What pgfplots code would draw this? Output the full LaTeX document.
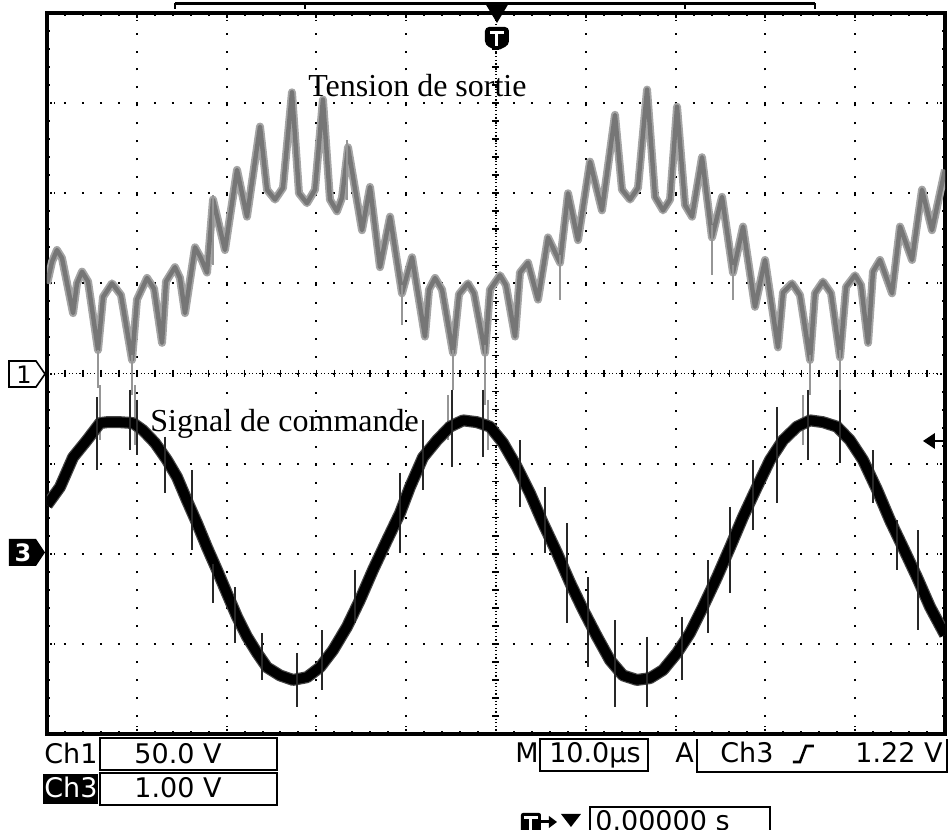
\documentclass[border=0pt]{standalone}
\usepackage{pgfplots}
\pgfplotsset{compat=1.18}
\usepackage{pgfplotstable}
\usepackage{fontspec}
\setmainfont{Liberation Serif}
\newfontfamily\scopefont{DejaVu Sans}

% Ch1 : tension de sortie (x en us, y en divisions)
\pgfplotstableread{
t v
0.00 1.00
0.11 1.04
0.56 1.24
1.11 1.37
1.67 1.28
2.90 0.67
3.34 1.00
3.90 1.13
4.57 1.02
5.68 0.26
6.24 0.85
7.24 1.00
8.24 0.87
9.47 0.15
10.02 0.82
11.14 1.06
11.92 0.94
12.81 0.34
13.25 1.02
14.25 1.18
14.81 1.06
15.37 0.67
16.48 1.40
17.15 1.28
17.82 1.12
18.49 1.93
19.82 1.37
21.16 2.26
22.27 1.74
23.72 2.74
24.50 2.04
25.39 1.93
26.28 2.06
27.28 3.12
28.06 2.00
28.95 1.89
29.84 2.04
30.73 3.04
31.51 1.93
32.29 1.80
32.85 1.95
33.52 2.51
35.08 1.59
35.97 2.07
37.08 1.18
38.20 1.74
39.53 0.89
40.65 1.29
42.09 0.41
42.54 0.93
43.21 1.06
43.99 0.93
45.21 0.23
45.88 0.88
46.88 1.00
47.55 0.89
48.78 0.23
49.33 0.93
50.45 1.09
51.11 0.98
52.12 0.41
52.67 1.12
53.56 1.23
54.68 0.82
55.79 1.51
57.13 1.23
58.02 2.00
59.13 1.48
60.47 2.35
61.80 1.81
63.25 2.87
64.03 2.04
64.92 1.93
65.81 2.06
66.82 3.15
67.71 1.96
68.60 1.81
69.38 1.93
70.16 2.96
71.05 1.87
71.83 1.74
72.94 2.40
74.05 1.51
75.17 1.96
76.39 1.12
77.51 1.63
78.84 0.74
79.96 1.26
81.40 0.29
81.96 0.90
82.96 1.00
83.85 0.87
84.97 0.15
85.52 0.89
86.41 1.02
87.31 0.89
88.31 0.18
88.98 0.96
89.98 1.09
90.65 0.98
91.43 0.34
91.98 1.13
92.76 1.26
94.10 0.89
94.99 1.63
96.33 1.26
97.44 2.04
98.55 1.59
100.00 2.26
}\sortie

% Ch3 : signal de commande
\pgfplotstableread{
t v
0.00 -1.46
1.45 -1.26
2.90 -0.93
4.45 -0.74
5.90 -0.55
6.68 -0.54
8.13 -0.54
9.58 -0.55
10.69 -0.63
12.03 -0.77
13.36 -0.96
14.48 -1.15
15.59 -1.41
16.70 -1.66
17.82 -1.93
18.93 -2.18
20.04 -2.44
21.16 -2.70
22.27 -2.92
23.39 -3.10
24.50 -3.26
25.95 -3.35
27.39 -3.40
28.95 -3.37
30.40 -3.26
31.85 -3.07
33.41 -2.81
34.86 -2.51
36.30 -2.18
37.86 -1.85
39.31 -1.55
40.42 -1.26
41.87 -0.93
43.43 -0.74
44.88 -0.59
46.33 -0.52
47.88 -0.54
49.33 -0.59
50.78 -0.77
52.34 -1.04
53.79 -1.33
55.23 -1.66
56.79 -1.99
58.24 -2.32
59.69 -2.62
61.25 -2.92
62.69 -3.18
64.14 -3.35
65.70 -3.40
67.15 -3.38
68.60 -3.29
70.16 -3.10
71.60 -2.88
73.05 -2.59
74.61 -2.26
76.06 -1.93
77.51 -1.59
79.06 -1.26
80.51 -0.96
81.96 -0.74
83.52 -0.59
84.97 -0.52
86.41 -0.54
87.97 -0.59
89.42 -0.74
90.87 -0.96
92.43 -1.29
93.88 -1.63
95.32 -1.93
96.88 -2.26
98.33 -2.59
100.00 -2.90
}\commande

\begin{document}
\begin{tikzpicture}
% lignes centrales de l'ecran
\begin{scope}[x=0.5bp,y=-0.5bp,shift={(-23.5bp,367bp)}]
  \draw[line width=0.8bp, dash pattern=on 0.6bp off 1.2bp] (47,373.5) -- (945,373.5);
  \draw[line width=0.8bp, dash pattern=on 0.6bp off 1.2bp] (496,13) -- (496,734);
  \foreach \k in {1,...,49} \draw[line width=0.8bp] ({47+17.96*\k},370) -- ++(0,7);
  \foreach \k in {1,...,39} \draw[line width=0.8bp] (492.5,{13+18.025*\k}) -- ++(7,0);
\end{scope}

\begin{axis}[
    width=449bp, height=360.5bp, scale only axis,
    xmin=0, xmax=100, ymin=-4, ymax=4,
    xtick={0,10,...,100}, ytick={-4,-3,...,4},
    minor x tick num=4, minor y tick num=4,
    xticklabels={}, yticklabels={},
    xtick pos=both, ytick pos=both,
    tick align=inside,
    major tick length=4.5bp, minor tick length=1.5bp,
    major tick style={black, line width=1bp, dash pattern=on 0.6bp off 1.1bp},
    minor tick style={black, line width=1bp},
    grid=major,
    major grid style={black, line width=1bp, dash pattern=on 1bp off 7.98bp, dash phase=0.5bp},
    axis line style={line width=2.3bp},
    no markers,
    unbounded coords=jump,
  ]
  % Ch1
  \addplot[color={rgb,255:red,165;green,165;blue,165}, line width=4bp, line join=round] table[x=t,y=v] {\sortie};
  \addplot[color={rgb,255:red,118;green,118;blue,118}, line width=2.2bp, line join=round] table[x=t,y=v] {\sortie};
  \addplot[color={rgb,255:red,150;green,150;blue,150}, line width=0.6bp] coordinates {
    (5.68,0.26) (5.68,-0.16) (5.68,nan)
    (9.47,0.20) (9.47,-0.24) (9.47,nan)
    (5.90,-0.13) (5.90,-0.74) (5.90,nan)
    (9.80,-0.13) (9.80,-0.79) (9.80,nan)
    (18.49,1.98) (18.49,1.20) (18.49,nan)
    (33.41,2.59) (33.41,1.93) (33.41,nan)
    (39.53,0.98) (39.53,0.54) (39.53,nan)
    (45.21,0.26) (45.21,-0.18) (45.21,nan)
    (48.78,0.32) (48.78,-0.35) (48.78,nan)
    (57.13,1.31) (57.13,0.82) (57.13,nan)
    (74.05,1.65) (74.05,1.09) (74.05,nan)
    (76.39,1.20) (76.39,0.82) (76.39,nan)
    (84.97,0.21) (84.97,-0.24) (84.97,nan)
    (88.31,0.26) (88.31,-0.27) (88.31,nan)
    (44.65,-0.24) (44.65,-0.74) (44.65,nan)
    (49.11,-0.29) (49.11,-0.85) (49.11,nan)
    (84.18,-0.24) (84.18,-0.79)
  };
  % Ch3
  \addplot[color={rgb,255:red,70;green,70;blue,70}, line width=6bp, line join=round] table[x=t,y=v] {\commande};
  \addplot[black, line width=4.8bp, line join=round] table[x=t,y=v] {\commande};
  \addplot[color={rgb,255:red,40;green,40;blue,40}, line width=0.6bp] coordinates {
    (5.57,-0.26) (5.57,-1.07) (5.57,nan)
    (9.24,-0.18) (9.24,-0.85) (9.24,nan)
    (10.02,-0.29) (10.02,-0.90) (10.02,nan)
    (13.14,-0.70) (13.14,-1.33) (13.14,nan)
    (16.15,-1.07) (16.15,-1.96) (16.15,nan)
    (18.49,-2.11) (18.49,-2.55) (18.49,nan)
    (20.94,-2.37) (20.94,-2.99) (20.94,nan)
    (23.94,-2.88) (23.94,-3.40) (23.94,nan)
    (27.84,-3.10) (27.84,-3.70) (27.84,nan)
    (30.62,-2.85) (30.62,-3.51) (30.62,nan)
    (34.30,-2.18) (34.30,-2.77) (34.30,nan)
    (39.31,-1.10) (39.31,-1.99) (39.31,nan)
    (41.87,-0.52) (41.87,-1.29) (41.87,nan)
    (45.10,-0.18) (45.10,-1.04) (45.10,nan)
    (48.55,-0.18) (48.55,-0.93) (48.55,nan)
    (52.67,-0.74) (52.67,-1.48) (52.67,nan)
    (55.46,-1.26) (55.46,-1.99) (55.46,nan)
    (57.91,-1.66) (57.91,-2.77) (57.91,nan)
    (60.24,-2.26) (60.24,-3.26) (60.24,nan)
    (63.25,-2.74) (63.25,-3.70) (63.25,nan)
    (66.82,-2.92) (66.82,-3.70) (66.82,nan)
    (70.71,-2.70) (70.71,-3.40) (70.71,nan)
    (73.61,-2.07) (73.61,-2.88) (73.61,nan)
    (76.06,-1.48) (76.06,-2.44) (76.06,nan)
    (78.62,-0.96) (78.62,-1.74) (78.62,nan)
    (81.29,-0.37) (81.29,-1.44) (81.29,nan)
    (84.74,-0.18) (84.74,-0.96) (84.74,nan)
    (88.31,-0.18) (88.31,-0.99) (88.31,nan)
    (91.98,-0.85) (91.98,-1.44) (91.98,nan)
    (94.65,-1.63) (94.65,-2.18) (94.65,nan)
    (96.99,-1.74) (96.99,-2.85)
  };
\end{axis}

% reperes et affichages de l'oscilloscope
\begin{scope}[x=0.5bp,y=-0.5bp,shift={(-23.5bp,367bp)},
    font=\scopefont\fontsize{13.5bp}{16bp}\selectfont]
  % barre d'enregistrement et declenchement
  \draw[line width=1.5bp] (175,3.5) -- (815,3.5);
  \foreach \xx in {175,305,685,815} \draw[line width=1.2bp] (\xx,3.5) -- (\xx,9);
  \fill (485,3) -- (509,3) -- (497,23) -- cycle;
  \fill[rounded corners=2bp] (485,27) -- (509,27) -- (509,45) -- (497,51) -- (485,45) -- cycle;
  \draw[white, line width=1.5bp] (490,33) -- (504,33) (497,33) -- (497,46);
  % reperes des voies
  \draw[line width=0.8bp, fill=white] (9,361) -- (36,361) -- (45,374) -- (36,387) -- (9,387) -- cycle;
  \node[inner sep=0, font=\scopefont\fontsize{12bp}{12bp}\selectfont] at (24,375) {1};
  \fill (9,539) -- (36,539) -- (45,552.5) -- (36,566) -- (9,566) -- cycle;
  \node[inner sep=0, text=white, font=\scopefont\bfseries\fontsize{12bp}{12bp}\selectfont] at (23,553) {3};
  \fill (923,441) -- (935,433) -- (935,449) -- cycle;
  \draw[line width=1.2bp] (934,441) -- (944,441);
  % legendes des courbes
  \node[anchor=base west, inner sep=0, font=\rmfamily\fontsize{16bp}{19bp}\selectfont] at (308,97) {Tension de sortie};
  \node[anchor=base west, inner sep=0, font=\rmfamily\fontsize{16bp}{19bp}\selectfont] at (150,432) {Signal de commande};
  % reglages
  \node[anchor=base west, inner sep=0] at (44,764) {Ch1};
  \draw[line width=1bp] (100,738) rectangle (277,770);
  \node[anchor=base, inner sep=0] at (178,764) {50.0 V};
  \fill (43,774) rectangle (98,804);
  \node[anchor=base west, inner sep=0, text=white] at (44,798) {Ch3};
  \draw[line width=1bp] (100,773) rectangle (277,805);
  \node[anchor=base, inner sep=0] at (178,798) {1.00 V};
  \node[anchor=base west, inner sep=0] at (515,763) {M};
  \draw[line width=1bp] (540,739) rectangle (648,771);
  \node[anchor=base, inner sep=0] at (595,763) {10.0µs};
  \node[anchor=base west, inner sep=0] at (675,763) {A};
  \draw[line width=1bp] (697,739) -- (697,772) -- (947,772) -- (947,739);
  \node[anchor=base west, inner sep=0] at (720,763) {Ch3};
  \draw[line width=1.3bp] (793,762) -- (800,762) -- (806,746) -- (814,746);
  \node[anchor=base east, inner sep=0] at (943,763) {1.22 V};
  \fill[rounded corners=1bp] (521,813) rectangle (541,836);
  \draw[white, line width=1.5bp] (524,818) -- (538,818) (531,818) -- (531,834);
  \draw[line width=1.5bp] (541,822) -- (551,822);
  \fill (557,822) -- (549,816) -- (549,828) -- cycle;
  \fill (561,814) -- (581,814) -- (571,827) -- cycle;
  \draw[line width=1bp] (590,807) rectangle (770,845);
  \node[anchor=base west, inner sep=0] at (595,831) {0.00000 s};
\end{scope}
\pgfresetboundingbox
\useasboundingbox (-23.5bp,-48bp) rectangle (450.5bp,367bp);
\end{tikzpicture}
\end{document}
